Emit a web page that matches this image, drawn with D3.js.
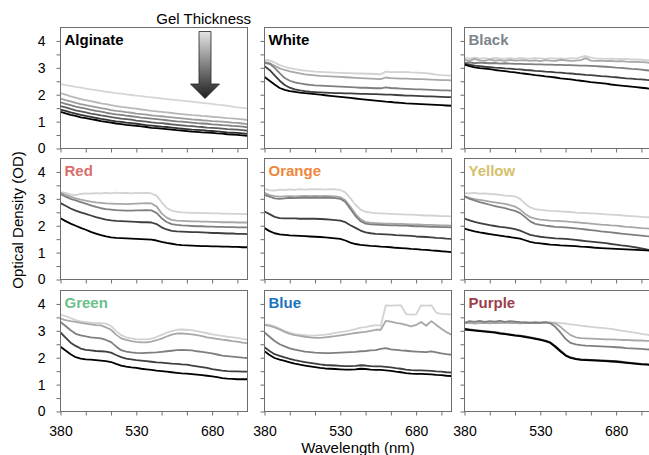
<!DOCTYPE html>
<html>
<head>
<meta charset="utf-8">
<script src="https://cdnjs.cloudflare.com/ajax/libs/d3/7.8.5/d3.min.js"></script>
<style>
  body { margin: 0; background: #fff; }
  svg { font-family: "Liberation Sans", Arial, sans-serif; }
</style>
</head>
<body>
<div id="chart"></div>
<script>
// wavelength samples (nm), shared by every panel
var wavelengths = [380,390,400,410,420,430,440,450,460,470,480,490,500,510,520,530,540,550,560,570,
                   580,590,600,610,620,630,640,650,660,670,680,690,700,710,720,730,740,750];

// each panel: series ordered darkest (thinnest gel) -> lightest (thickest gel)
var alginate = [
  [1.36,1.31,1.25,1.21,1.16,1.13,1.09,1.06,1.02,0.99,0.96,0.93,0.91,0.88,0.86,0.84,0.82,0.80,0.77,0.76,0.74,0.72,0.70,0.68,0.67,0.65,0.63,0.62,0.60,0.59,0.58,0.56,0.55,0.53,0.52,0.51,0.49,0.47],
  [1.45,1.40,1.34,1.30,1.25,1.21,1.18,1.14,1.10,1.07,1.04,1.01,0.99,0.96,0.94,0.92,0.90,0.87,0.85,0.83,0.81,0.80,0.78,0.76,0.74,0.72,0.70,0.69,0.68,0.66,0.65,0.64,0.62,0.60,0.59,0.58,0.56,0.54],
  [1.58,1.53,1.47,1.42,1.38,1.34,1.30,1.27,1.23,1.20,1.17,1.14,1.11,1.09,1.07,1.04,1.02,1.00,0.97,0.95,0.94,0.92,0.90,0.88,0.86,0.84,0.83,0.81,0.80,0.78,0.77,0.76,0.74,0.72,0.71,0.70,0.68,0.66],
  [1.72,1.66,1.61,1.56,1.52,1.48,1.44,1.40,1.37,1.33,1.30,1.27,1.25,1.22,1.20,1.18,1.15,1.13,1.11,1.09,1.07,1.05,1.03,1.01,1.00,0.98,0.96,0.94,0.93,0.92,0.90,0.89,0.87,0.86,0.84,0.83,0.81,0.79],
  [1.86,1.80,1.75,1.70,1.65,1.61,1.58,1.54,1.50,1.47,1.43,1.40,1.38,1.35,1.33,1.30,1.28,1.26,1.23,1.21,1.20,1.18,1.16,1.14,1.12,1.10,1.08,1.07,1.05,1.04,1.02,1.01,1.00,0.98,0.96,0.95,0.93,0.91],
  [2.06,2.00,1.94,1.89,1.84,1.80,1.76,1.72,1.68,1.65,1.61,1.58,1.55,1.53,1.50,1.48,1.45,1.43,1.40,1.38,1.36,1.34,1.32,1.30,1.28,1.26,1.24,1.23,1.21,1.20,1.18,1.17,1.15,1.13,1.12,1.10,1.08,1.06],
  [2.40,2.36,2.33,2.29,2.26,2.23,2.20,2.17,2.14,2.11,2.09,2.06,2.04,2.01,1.99,1.97,1.95,1.92,1.90,1.88,1.86,1.84,1.82,1.80,1.78,1.76,1.74,1.72,1.70,1.68,1.66,1.63,1.61,1.59,1.56,1.53,1.51,1.48]
];
var white = [
  [2.66,2.52,2.38,2.25,2.18,2.13,2.11,2.08,2.06,2.04,2.02,2.00,1.98,1.96,1.94,1.92,1.90,1.88,1.86,1.84,1.82,1.80,1.78,1.76,1.74,1.73,1.71,1.70,1.68,1.67,1.66,1.65,1.64,1.63,1.62,1.61,1.60,1.59],
  [3.06,2.92,2.72,2.52,2.36,2.26,2.20,2.16,2.13,2.11,2.10,2.09,2.08,2.07,2.06,2.06,2.05,2.05,2.04,2.03,2.03,2.02,2.02,2.01,2.00,2.00,1.99,1.98,1.97,1.97,1.96,1.95,1.94,1.94,1.93,1.92,1.91,1.91],
  [3.18,3.15,3.00,2.80,2.62,2.52,2.46,2.42,2.39,2.37,2.35,2.34,2.33,2.32,2.31,2.30,2.29,2.28,2.27,2.26,2.26,2.25,2.24,2.24,2.27,2.25,2.24,2.23,2.22,2.21,2.20,2.20,2.19,2.18,2.17,2.16,2.16,2.15],
  [3.22,3.18,3.08,2.98,2.92,2.87,2.83,2.79,2.76,2.74,2.72,2.70,2.69,2.68,2.67,2.66,2.65,2.64,2.63,2.62,2.61,2.60,2.59,2.58,2.64,2.62,2.61,2.60,2.60,2.59,2.58,2.58,2.57,2.56,2.55,2.54,2.54,2.53],
  [3.30,3.28,3.20,3.10,3.04,2.99,2.95,2.92,2.90,2.88,2.86,2.85,2.84,2.83,2.82,2.81,2.80,2.80,2.79,2.79,2.78,2.78,2.77,2.76,2.86,2.84,2.85,2.84,2.85,2.83,2.82,2.81,2.80,2.78,2.75,2.73,2.72,2.71]
];
var black = [
  [3.12,3.06,3.02,2.99,2.97,2.95,2.92,2.90,2.88,2.85,2.83,2.80,2.78,2.76,2.73,2.71,2.68,2.66,2.64,2.61,2.59,2.57,2.54,2.52,2.50,2.47,2.45,2.43,2.41,2.38,2.36,2.34,2.32,2.30,2.28,2.26,2.24,2.22],
  [3.16,3.12,3.08,3.06,3.04,3.03,3.01,3.00,2.98,2.97,2.95,2.94,2.92,2.91,2.89,2.88,2.86,2.85,2.83,2.82,2.80,2.79,2.77,2.76,2.74,2.73,2.71,2.69,2.68,2.66,2.65,2.63,2.61,2.60,2.58,2.57,2.55,2.54],
  [3.18,3.20,3.17,3.19,3.18,3.17,3.18,3.16,3.17,3.16,3.15,3.15,3.14,3.14,3.13,3.13,3.12,3.12,3.11,3.11,3.10,3.10,3.09,3.08,3.08,3.07,3.06,3.05,3.04,3.03,3.01,3.00,2.98,2.96,2.95,2.93,2.91,2.89],
  [3.30,3.26,3.33,3.28,3.26,3.31,3.27,3.29,3.26,3.30,3.27,3.28,3.29,3.26,3.28,3.25,3.29,3.27,3.26,3.30,3.28,3.26,3.27,3.29,3.36,3.27,3.26,3.27,3.25,3.26,3.24,3.25,3.23,3.22,3.22,3.21,3.20,3.18],
  [3.36,3.34,3.38,3.34,3.36,3.33,3.37,3.35,3.34,3.36,3.33,3.37,3.35,3.34,3.36,3.35,3.33,3.36,3.34,3.35,3.33,3.36,3.34,3.40,3.44,3.38,3.35,3.34,3.33,3.34,3.33,3.32,3.33,3.31,3.31,3.30,3.29,3.28]
];
var red = [
  [2.28,2.17,2.08,2.00,1.92,1.85,1.77,1.71,1.65,1.60,1.57,1.55,1.54,1.53,1.52,1.51,1.50,1.49,1.48,1.45,1.40,1.36,1.33,1.30,1.28,1.27,1.26,1.25,1.24,1.24,1.23,1.23,1.22,1.22,1.21,1.21,1.20,1.20],
  [2.84,2.74,2.64,2.56,2.50,2.44,2.38,2.32,2.27,2.23,2.20,2.18,2.17,2.16,2.15,2.14,2.13,2.13,2.12,2.06,1.94,1.86,1.81,1.79,1.78,1.77,1.76,1.76,1.75,1.74,1.73,1.73,1.72,1.71,1.71,1.70,1.70,1.69],
  [3.18,3.08,3.00,2.94,2.88,2.82,2.76,2.70,2.65,2.62,2.60,2.58,2.57,2.56,2.56,2.57,2.57,2.58,2.57,2.48,2.28,2.14,2.06,2.03,2.01,2.00,1.99,1.98,1.98,1.97,1.97,1.96,1.96,1.95,1.95,1.94,1.94,1.94],
  [3.23,3.15,3.08,3.02,2.97,2.93,2.90,2.87,2.85,2.83,2.82,2.81,2.81,2.80,2.81,2.82,2.83,2.84,2.83,2.72,2.46,2.30,2.22,2.19,2.18,2.17,2.16,2.16,2.15,2.15,2.14,2.14,2.13,2.13,2.13,2.12,2.12,2.12],
  [3.25,3.22,3.16,3.14,3.18,3.20,3.19,3.21,3.20,3.22,3.20,3.23,3.21,3.22,3.20,3.22,3.21,3.22,3.20,3.12,2.88,2.66,2.56,2.52,2.50,2.49,2.48,2.48,2.47,2.47,2.46,2.46,2.45,2.45,2.44,2.44,2.43,2.43]
];
var orange = [
  [1.91,1.80,1.72,1.68,1.66,1.64,1.63,1.62,1.61,1.60,1.59,1.58,1.57,1.55,1.53,1.51,1.45,1.37,1.32,1.29,1.27,1.25,1.24,1.22,1.21,1.20,1.18,1.17,1.16,1.14,1.13,1.11,1.10,1.08,1.07,1.05,1.04,1.02],
  [2.53,2.43,2.33,2.28,2.27,2.27,2.27,2.26,2.26,2.26,2.26,2.25,2.24,2.23,2.21,2.19,2.13,2.02,1.92,1.82,1.75,1.72,1.70,1.69,1.68,1.67,1.65,1.64,1.63,1.62,1.60,1.59,1.58,1.57,1.55,1.54,1.52,1.51],
  [3.15,3.08,3.02,3.00,3.02,3.04,3.03,3.04,3.05,3.04,3.05,3.04,3.05,3.04,3.03,3.00,2.88,2.62,2.36,2.17,2.08,2.05,2.04,2.03,2.02,2.01,2.01,2.00,2.00,1.99,1.98,1.98,1.97,1.96,1.96,1.95,1.95,1.94],
  [3.22,3.14,3.10,3.08,3.09,3.10,3.09,3.10,3.11,3.10,3.11,3.10,3.11,3.10,3.09,3.06,2.95,2.70,2.44,2.24,2.14,2.11,2.10,2.09,2.08,2.08,2.07,2.07,2.06,2.05,2.05,2.04,2.03,2.03,2.02,2.01,2.01,2.00],
  [3.36,3.32,3.31,3.34,3.32,3.35,3.33,3.36,3.34,3.36,3.35,3.36,3.34,3.36,3.35,3.33,3.24,3.02,2.78,2.60,2.52,2.49,2.47,2.46,2.45,2.44,2.43,2.42,2.41,2.41,2.40,2.39,2.38,2.38,2.37,2.36,2.36,2.35]
];
var yellow = [
  [1.89,1.84,1.79,1.75,1.72,1.69,1.66,1.63,1.60,1.58,1.55,1.52,1.46,1.40,1.36,1.34,1.32,1.30,1.29,1.27,1.26,1.25,1.24,1.22,1.21,1.20,1.18,1.17,1.16,1.15,1.14,1.13,1.12,1.11,1.10,1.09,1.08,1.07],
  [2.26,2.20,2.14,2.10,2.06,2.02,1.99,1.96,1.94,1.91,1.87,1.82,1.74,1.66,1.62,1.59,1.57,1.55,1.53,1.52,1.51,1.49,1.47,1.45,1.43,1.41,1.39,1.37,1.35,1.32,1.30,1.27,1.25,1.22,1.19,1.16,1.12,1.09],
  [3.09,3.00,2.94,2.88,2.83,2.78,2.73,2.69,2.65,2.60,2.55,2.47,2.32,2.16,2.07,2.03,2.00,1.98,1.96,1.95,1.94,1.92,1.90,1.88,1.86,1.84,1.82,1.79,1.77,1.75,1.73,1.71,1.69,1.67,1.65,1.63,1.61,1.60],
  [3.10,3.04,2.99,2.96,2.93,2.90,2.87,2.84,2.81,2.77,2.71,2.60,2.44,2.32,2.26,2.23,2.21,2.19,2.18,2.17,2.16,2.14,2.13,2.11,2.10,2.08,2.06,2.04,2.03,2.01,2.00,1.98,1.96,1.95,1.93,1.91,1.90,1.89],
  [3.21,3.20,3.22,3.19,3.20,3.18,3.17,3.15,3.12,3.11,3.09,3.00,2.82,2.68,2.62,2.59,2.57,2.55,2.54,2.53,2.52,2.51,2.49,2.48,2.47,2.46,2.45,2.44,2.42,2.41,2.40,2.39,2.37,2.36,2.35,2.33,2.32,2.31]
];
var green = [
  [2.41,2.27,2.13,2.02,1.97,1.94,1.93,1.91,1.89,1.87,1.84,1.77,1.71,1.67,1.64,1.62,1.59,1.57,1.55,1.52,1.50,1.48,1.46,1.44,1.42,1.41,1.39,1.37,1.35,1.33,1.31,1.28,1.24,1.22,1.21,1.20,1.20,1.20],
  [2.94,2.75,2.56,2.44,2.34,2.29,2.27,2.25,2.24,2.23,2.19,2.10,2.02,1.97,1.94,1.91,1.89,1.87,1.85,1.83,1.82,1.80,1.78,1.77,1.75,1.74,1.71,1.68,1.65,1.62,1.58,1.55,1.52,1.50,1.49,1.49,1.48,1.48],
  [3.33,3.18,3.02,2.89,2.83,2.79,2.76,2.74,2.72,2.66,2.58,2.42,2.28,2.23,2.20,2.18,2.17,2.18,2.19,2.20,2.22,2.24,2.26,2.28,2.29,2.28,2.27,2.24,2.22,2.19,2.16,2.12,2.08,2.06,2.04,2.02,2.00,1.99],
  [3.45,3.40,3.36,3.33,3.30,3.27,3.24,3.21,3.20,3.13,3.04,2.86,2.72,2.66,2.62,2.59,2.57,2.57,2.60,2.65,2.71,2.79,2.86,2.90,2.90,2.89,2.87,2.84,2.80,2.76,2.73,2.70,2.67,2.65,2.62,2.60,2.56,2.54],
  [3.60,3.55,3.47,3.40,3.35,3.32,3.30,3.29,3.29,3.27,3.18,3.00,2.84,2.76,2.72,2.69,2.68,2.68,2.71,2.77,2.85,2.93,2.99,3.04,3.05,3.04,3.03,2.99,2.95,2.91,2.87,2.84,2.81,2.78,2.76,2.74,2.70,2.67]
];
var blue = [
  [2.24,2.10,1.99,1.93,1.88,1.83,1.78,1.74,1.71,1.68,1.65,1.62,1.60,1.59,1.58,1.57,1.56,1.56,1.57,1.59,1.58,1.56,1.55,1.55,1.53,1.51,1.48,1.46,1.43,1.41,1.40,1.40,1.39,1.38,1.36,1.35,1.33,1.32],
  [2.39,2.25,2.13,2.07,2.01,1.96,1.91,1.87,1.84,1.81,1.78,1.75,1.73,1.72,1.71,1.70,1.69,1.69,1.70,1.72,1.71,1.69,1.68,1.68,1.66,1.64,1.61,1.59,1.56,1.54,1.53,1.53,1.52,1.51,1.49,1.48,1.46,1.45],
  [2.94,2.78,2.62,2.50,2.42,2.35,2.30,2.26,2.23,2.21,2.19,2.18,2.17,2.17,2.18,2.19,2.20,2.21,2.22,2.24,2.25,2.27,2.28,2.33,2.36,2.31,2.29,2.27,2.26,2.24,2.23,2.22,2.21,2.24,2.20,2.16,2.13,2.11],
  [3.22,3.18,3.13,3.05,2.96,2.89,2.84,2.81,2.78,2.76,2.74,2.74,2.76,2.78,2.80,2.83,2.86,2.89,2.92,2.94,2.96,3.00,3.04,3.04,3.37,3.34,3.30,3.27,3.22,3.17,3.22,3.33,3.19,3.36,3.22,3.08,2.95,2.86],
  [3.24,3.22,3.17,3.08,2.99,2.93,2.88,2.86,2.84,2.82,2.82,2.84,2.86,2.89,2.92,2.95,2.98,3.02,3.06,3.12,3.14,3.18,3.21,3.19,3.95,3.94,3.95,3.95,3.62,3.60,3.61,3.95,3.94,3.95,3.67,3.63,3.62,3.60]
];
var purple = [
  [3.05,3.03,3.01,2.99,2.97,2.95,2.93,2.90,2.88,2.85,2.82,2.80,2.77,2.74,2.70,2.66,2.62,2.55,2.40,2.23,2.08,1.99,1.95,1.92,1.91,1.90,1.89,1.88,1.87,1.86,1.85,1.83,1.81,1.79,1.77,1.75,1.74,1.73],
  [3.08,3.05,3.03,3.01,2.99,2.97,2.95,2.92,2.90,2.87,2.84,2.82,2.79,2.76,2.72,2.68,2.64,2.57,2.43,2.26,2.10,2.01,1.97,1.94,1.93,1.92,1.91,1.90,1.89,1.88,1.87,1.85,1.83,1.81,1.79,1.77,1.76,1.75],
  [3.30,3.36,3.33,3.37,3.33,3.36,3.34,3.37,3.33,3.36,3.34,3.32,3.31,3.30,3.31,3.30,3.32,3.28,3.14,2.93,2.70,2.55,2.50,2.47,2.45,2.44,2.43,2.42,2.41,2.40,2.39,2.38,2.36,2.35,2.34,2.33,2.31,2.30],
  [3.28,3.30,3.27,3.29,3.30,3.28,3.30,3.29,3.31,3.29,3.30,3.28,3.30,3.29,3.30,3.29,3.30,3.30,3.27,3.15,2.98,2.84,2.76,2.73,2.72,2.71,2.70,2.69,2.68,2.68,2.67,2.66,2.66,2.65,2.64,2.64,2.63,2.62],
  [3.33,3.31,3.34,3.32,3.30,3.33,3.31,3.32,3.30,3.31,3.33,3.30,3.32,3.30,3.31,3.30,3.32,3.30,3.31,3.29,3.27,3.24,3.22,3.19,3.17,3.15,3.13,3.11,3.09,3.07,3.04,3.01,2.98,2.95,2.92,2.89,2.86,2.83]
];

var panelNames = ["Alginate", "White", "Black", "Red", "Orange", "Yellow", "Green", "Blue", "Purple"];
var panelSeries = [alginate, white, black, red, orange, yellow, green, blue, purple];

var xTicks = [380, 430, 480, 530, 580, 630, 680, 730];
var xLabels = [380, 530, 680];
var yTicks = [0, 0.5, 1, 1.5, 2, 2.5, 3, 3.5, 4];
var yLabels = [0, 1, 2, 3, 4];

// styling
var titleColors = ["#000000", "#000000", "#7e848b", "#d86f6c", "#ef873d", "#d5c16c", "#6cc08b", "#1a73bd", "#9b3f4e"];
var grays5 = ["#000000", "#3f3f3f", "#7f7f7f", "#a8a8a8", "#d2d2d2"];
var grays7 = ["#000000", "#333333", "#5c5c5c", "#808080", "#9c9c9c", "#b8b8b8", "#d6d6d6"];

var W = 649, H = 455;
var colLeft = [60.5, 264.5, 464.5],
    rowTop = [27.5, 158.5, 290.5],
    pw = 187, ph = 121;

var svg = d3.select("#chart").append("svg")
    .attr("width", W)
    .attr("height", H);

// gradient for the "Gel Thickness" arrow
var defs = svg.append("defs");
var grad = defs.append("linearGradient")
    .attr("id", "gelGrad")
    .attr("x1", 0).attr("y1", 0).attr("x2", 0).attr("y2", 1);
grad.append("stop").attr("offset", "0%").attr("stop-color", "#e4e4e4");
grad.append("stop").attr("offset", "100%").attr("stop-color", "#1e1e1e");

panelSeries.forEach(function(series, p) {
  var col = p % 3, row = Math.floor(p / 3);
  var left = colLeft[col], top = rowTop[row];

  var x = d3.scaleLinear().domain([380, 750]).range([left, left + pw]);
  var y = d3.scaleLinear().domain([0, 4.5]).range([top + ph, top]);

  defs.append("clipPath").attr("id", "clip" + p)
    .append("rect")
      .attr("x", left).attr("y", top)
      .attr("width", pw).attr("height", ph);

  // Y axis
  var yAxis = svg.append("g")
    .attr("transform", "translate(" + left + ",0)")
    .call(d3.axisLeft(y)
      .tickValues(yTicks)
      .tickSize(4)
      .tickPadding(11)
      .tickFormat(function(d) { return (col == 0 && yLabels.indexOf(d) >= 0) ? d : ""; }));
  yAxis.select(".domain").remove();
  yAxis.selectAll("line").attr("stroke", "#6e6e6e");
  yAxis.selectAll("text").style("font-size", "14px").attr("fill", "#000");

  // X axis
  var xAxis = svg.append("g")
    .attr("transform", "translate(0," + (top + ph) + ")")
    .call(d3.axisBottom(x)
      .tickValues(xTicks)
      .tickSize(4)
      .tickPadding(11)
      .tickFormat(function(d) { return (row == 2 && xLabels.indexOf(d) >= 0) ? d : ""; }));
  xAxis.select(".domain").remove();
  xAxis.selectAll("line").attr("stroke", "#6e6e6e");
  xAxis.selectAll("text").style("font-size", "14px").attr("fill", "#000");

  // lines, lightest first so the dark ones sit on top
  var grays = series.length == 7 ? grays7 : grays5;
  var line = d3.line()
    .x(function(d, i) { return x(wavelengths[i]); })
    .y(function(d) { return y(d); });

  var g = svg.append("g").attr("clip-path", "url(#clip" + p + ")");
  for (var i = series.length - 1; i >= 0; i--) {
    g.append("path")
      .datum(series[i])
      .attr("fill", "none")
      .attr("stroke", grays[i])
      .attr("stroke-width", 1.8)
      .attr("stroke-linejoin", "round")
      .attr("d", line);
  }

  // frame
  svg.append("rect")
    .attr("x", left).attr("y", top)
    .attr("width", pw).attr("height", ph)
    .attr("fill", "none")
    .attr("stroke", "#6e6e6e")
    .attr("stroke-width", 1);

  svg.append("text")
    .attr("x", left + 4)
    .attr("y", top + 17)
    .attr("fill", titleColors[p])
    .style("font-size", "15px")
    .style("font-weight", "bold")
    .text(panelNames[p]);
});

// axis titles
svg.append("text")
  .attr("transform", "translate(23,220)rotate(-90)")
  .attr("text-anchor", "middle")
  .style("font-size", "15px")
  .text("Optical Density (OD)");

svg.append("text")
  .attr("x", 358)
  .attr("y", 453)
  .attr("text-anchor", "middle")
  .style("font-size", "15px")
  .text("Wavelength (nm)");

// Gel thickness arrow
svg.append("text")
  .attr("x", 251)
  .attr("y", 24)
  .attr("text-anchor", "end")
  .style("font-size", "15px")
  .text("Gel Thickness");

svg.append("path")
  .attr("d", "M199,31.5 L211,31.5 L211,84 L219.5,84 L205,98.5 L190.5,84 L199,84 Z")
  .attr("fill", "url(#gelGrad)")
  .attr("stroke", "#222")
  .attr("stroke-width", 0.8);
</script>
</body>
</html>
